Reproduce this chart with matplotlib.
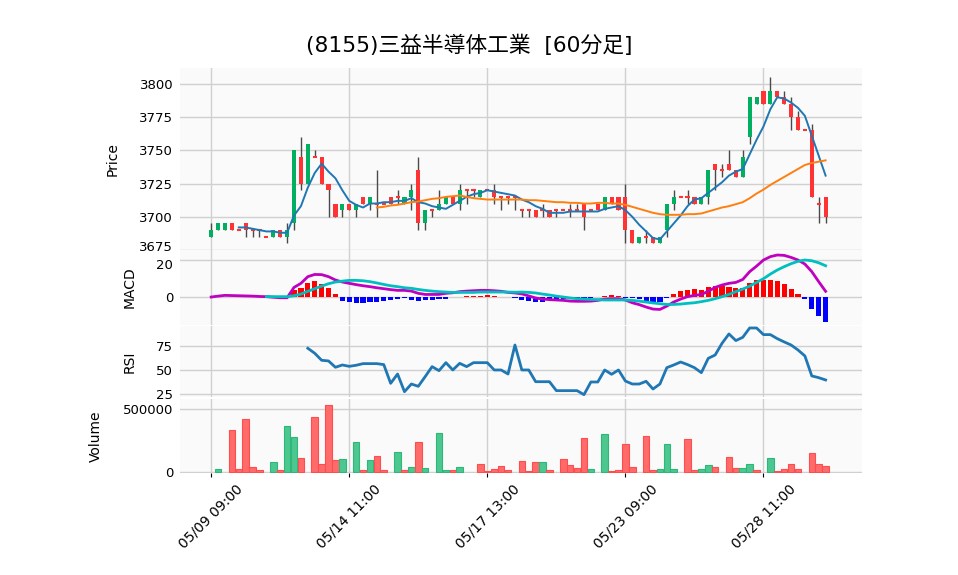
import numpy as np
import matplotlib.pyplot as plt
import matplotlib.transforms as mtransforms

plt.rcParams['font.family'] = ['DejaVu Sans', 'Noto Sans CJK JP']

title = '(8155)三益半導体工業  [60分足]'
tick_pos = [0, 20, 40, 60, 80]
tick_labels = ['05/09 09:00', '05/14 11:00', '05/17 13:00', '05/23 09:00', '05/28 11:00']

# hourly bars, 6 per day
opens = [3685, 3690, 3690, 3695, 3690, 3695, 3690, 3690, 3685, 3685,
         3690, 3685, 3695, 3745, 3725, 3745, 3745, 3725, 3710, 3705,
         3710, 3705, 3715, 3710, 3710, 3710, 3715, 3715, 3710, 3715,
         3735, 3695, 3705, 3705, 3710, 3715, 3710, 3720, 3720, 3715,
         3720, 3720, 3715, 3715, 3715, 3705, 3705, 3705, 3705, 3705,
         3705, 3705, 3705, 3705, 3710, 3705, 3710, 3705, 3715, 3715,
         3715, 3690, 3680, 3685, 3685, 3680, 3690, 3710, 3715, 3715,
         3715, 3710, 3715, 3740, 3735, 3740, 3735, 3730, 3760, 3785,
         3795, 3785, 3795, 3790, 3785, 3775, 3765, 3765, 3710, 3715]
highs = [3695, 3695, 3695, 3695, 3690, 3695, 3690, 3690, 3685, 3690,
         3690, 3695, 3750, 3760, 3755, 3750, 3745, 3725, 3710, 3710,
         3710, 3710, 3715, 3715, 3735, 3710, 3715, 3720, 3715, 3725,
         3745, 3705, 3705, 3720, 3715, 3715, 3725, 3720, 3720, 3720,
         3720, 3725, 3715, 3715, 3715, 3705, 3705, 3705, 3710, 3705,
         3705, 3705, 3710, 3710, 3710, 3705, 3710, 3715, 3715, 3715,
         3725, 3690, 3685, 3690, 3685, 3685, 3710, 3720, 3715, 3720,
         3715, 3715, 3735, 3740, 3740, 3750, 3735, 3750, 3790, 3790,
         3795, 3805, 3795, 3795, 3790, 3780, 3765, 3770, 3715, 3715]
lows = [3685, 3690, 3690, 3690, 3690, 3685, 3685, 3685, 3685, 3685,
        3685, 3680, 3690, 3720, 3725, 3745, 3725, 3700, 3700, 3700,
        3705, 3700, 3710, 3705, 3700, 3710, 3710, 3710, 3710, 3705,
        3690, 3690, 3700, 3705, 3710, 3710, 3705, 3710, 3715, 3715,
        3720, 3710, 3705, 3710, 3705, 3700, 3700, 3700, 3700, 3700,
        3700, 3705, 3700, 3705, 3690, 3705, 3705, 3705, 3710, 3705,
        3680, 3680, 3680, 3680, 3680, 3680, 3685, 3705, 3715, 3710,
        3710, 3710, 3710, 3720, 3730, 3735, 3730, 3730, 3755, 3785,
        3785, 3785, 3790, 3785, 3765, 3765, 3765, 3715, 3695, 3695]
closes = [3690, 3695, 3695, 3690, 3690, 3690, 3690, 3690, 3685, 3690,
          3685, 3690, 3750, 3725, 3755, 3745, 3725, 3720, 3700, 3710,
          3705, 3710, 3710, 3715, 3710, 3710, 3710, 3715, 3715, 3720,
          3695, 3705, 3705, 3710, 3715, 3710, 3720, 3720, 3720, 3720,
          3720, 3715, 3715, 3715, 3715, 3705, 3705, 3700, 3705, 3700,
          3705, 3705, 3705, 3705, 3700, 3705, 3705, 3715, 3710, 3705,
          3690, 3680, 3685, 3685, 3680, 3685, 3710, 3715, 3715, 3715,
          3710, 3715, 3735, 3735, 3735, 3735, 3730, 3745, 3790, 3790,
          3785, 3795, 3790, 3785, 3775, 3765, 3765, 3715, 3710, 3700]
volume = [0, 19000, 0, 334000, 19000, 422000, 37000, 11000, 0, 77500,
          11000, 366000, 278000, 110000, 0, 438500, 61500, 535000, 93600, 101600,
          0, 238000, 11000, 93600, 126000, 11000, 0, 158000, 11000, 37000,
          238000, 29000, 0, 310000, 11000, 11000, 37000, 0, 0, 61500,
          3000, 19000, 45000, 11000, 0, 83000, 5000, 75000, 75000, 11000,
          0, 99000, 51000, 29000, 270000, 19000, 0, 302000, 5000, 11000,
          222000, 37000, 0, 286000, 11000, 21000, 222000, 21000, 0, 262000,
          11000, 19000, 51000, 37000, 0, 118000, 29000, 29000, 61500, 11000,
          0, 110000, 5000, 19000, 61500, 19000, 0, 150000, 61500, 45000]

ma5 = [np.nan] * 4 + [
    3692, 3692, 3691, 3690, 3689, 3689, 3688, 3688, 3701, 3708,
    3722, 3733, 3740, 3734, 3729, 3720, 3712, 3709, 3707, 3710,
    3710, 3711, 3711, 3712, 3712, 3714, 3711, 3710, 3708, 3707,
    3706, 3709, 3712, 3715, 3717, 3718, 3720, 3719, 3718, 3717,
    3716, 3713, 3711, 3708, 3706, 3703, 3703, 3703, 3704, 3704,
    3704, 3704, 3704, 3706, 3707, 3708, 3705, 3700, 3694, 3689,
    3684, 3683, 3689, 3695, 3701, 3708, 3713, 3714, 3718, 3722,
    3726, 3731, 3734, 3736, 3747, 3758, 3768, 3781, 3790, 3789,
    3786, 3782, 3776, 3761, 3746, 3731]
ma25 = [np.nan] * 24 + [
    3707, 3707.5, 3708.5, 3709, 3710, 3711, 3711.5, 3712.5, 3713.5, 3714,
    3715, 3715.5, 3716, 3715, 3714, 3713.5, 3713, 3713, 3713, 3713,
    3713, 3713, 3712.5, 3712.5, 3712, 3711.5, 3711, 3711, 3710.5, 3710.5,
    3710, 3710, 3710.5, 3710.5, 3710, 3710, 3709, 3707.5, 3706, 3704.5,
    3703, 3702, 3701.5, 3701.5, 3701.5, 3702, 3702, 3702.5, 3704, 3705.5,
    3707, 3708, 3709.5, 3711, 3714, 3717.5, 3720.5, 3724, 3727, 3730,
    3733, 3736, 3739, 3740.5, 3741.5, 3742.5]

macd = [0.0, 0.5, 0.9, 0.8, 0.7, 0.6, 0.5, 0.3, 0.2, -0.1,
        -0.4, -0.4, 5.2, 7.4, 11.0, 12.2, 12.1, 11.0, 9.2, 8.1,
        7.4, 6.7, 6.1, 5.6, 5.0, 4.5, 4.0, 3.6, 3.6, 3.2,
        2.0, 1.4, 1.4, 1.4, 2.0, 2.3, 2.9, 3.2, 3.4, 3.6,
        3.6, 3.4, 3.1, 2.5, 2.2, 1.7, 0.6, -0.5, -1.1, -1.4,
        -1.6, -1.8, -2.2, -2.3, -2.3, -2.2, -1.8, -1.1, -0.9, -0.9,
        -1.6, -3.1, -4.1, -5.4, -6.5, -6.7, -4.9, -2.7, -1.1, 0.2,
        0.9, 1.4, 3.1, 5.2, 6.5, 7.4, 7.9, 9.5, 13.7, 16.7,
        20.0, 21.8, 22.7, 22.5, 21.4, 20.0, 17.8, 13.7, 8.3, 3.1]
signal = [np.nan] * 8 + [
    0.2, 0.2, 0.2, 0.2, 0.7, 1.6, 3.1, 4.5, 5.9, 7.2,
    8.1, 8.6, 9.0, 9.0, 8.8, 8.3, 7.6, 6.8, 6.1, 5.6,
    5.0, 4.7, 4.1, 3.6, 3.2, 2.9, 2.7, 2.5, 2.5, 2.5,
    2.5, 2.7, 2.7, 2.7, 2.7, 2.7, 2.6, 2.7, 2.5, 2.2,
    1.6, 1.1, 0.5, 0.0, -0.5, -0.9, -1.1, -1.3, -1.4, -1.6,
    -1.6, -1.6, -1.6, -1.8, -2.2, -2.7, -3.2, -3.6, -4.0, -4.0,
    -3.8, -3.4, -3.1, -2.5, -1.8, -0.9, 0.2, 1.4, 2.9, 4.3,
    5.9, 7.9, 9.9, 12.4, 14.6, 16.4, 18.0, 19.3, 20.0, 19.6,
    18.5, 16.9]
hist = [np.nan] * 8 + [
    0.0, 0.0, 0.0, 0.0, 3.8, 5.0, 7.4, 8.6, 7.0, 4.9,
    1.6, -2.2, -2.9, -3.4, -3.1, -2.7, -2.7, -2.0, -1.6, -1.1,
    -0.7, -1.6, -2.0, -1.6, -1.4, -0.9, -0.9, -0.2, 0.0, 0.7,
    0.7, 0.7, 0.9, 0.5, 0.2, 0.0, -0.4, -1.5, -2.2, -2.7,
    -2.5, -1.6, -1.3, -1.3, -0.9, -0.9, -0.7, -0.5, -0.2, 0.5,
    1.1, 0.5, -0.4, -0.7, -1.3, -2.0, -2.5, -2.9, -0.4, 1.8,
    3.2, 4.0, 4.5, 4.0, 5.6, 5.9, 5.9, 5.4, 4.7, 5.0,
    7.6, 9.0, 9.4, 9.2, 8.6, 7.2, 4.5, 1.8, -0.9, -6.3,
    -10.1, -13.3]
rsi = [np.nan] * 14 + [
    72.6, 67.4, 60.1, 59.4, 52.8, 55.2, 53.8, 54.9, 56.6, 56.6,
    56.6, 55.6, 36.1, 45.8, 27.4, 35.4, 33.0, 43.1, 53.5, 49.3,
    57.6, 50.0, 56.9, 53.5, 57.6, 57.6, 57.6, 50.0, 50.0, 45.8,
    76.0, 50.0, 50.0, 37.8, 37.8, 37.8, 28.5, 28.5, 28.5, 28.5,
    24.3, 37.5, 37.5, 50.0, 45.5, 50.0, 38.5, 35.4, 35.4, 38.2,
    30.2, 35.4, 52.4, 55.2, 58.3, 55.6, 52.4, 47.2, 62.1, 65.6,
    77.8, 87.5, 80.6, 84.0, 93.7, 93.7, 86.8, 86.8, 82.6, 79.2,
    76.0, 70.8, 64.6, 43.8, 42.0, 39.6]

o = np.array(opens, float)
h = np.array(highs, float)
l = np.array(lows, float)
c = np.array(closes, float)
v = np.array(volume, float)
x = np.arange(len(c))

up_c, dn_c = '#00b060', '#ff3333'
up = c > o
doji = c == o
body_col = np.where(up, up_c, dn_c)
prev = np.concatenate([[c[0]], c[:-1]])
vol_up = c > prev

fig = plt.figure(figsize=(9.58, 5.75), dpi=100)
L, W = 0.188, 0.712
ax1 = fig.add_axes([L, 0.5652, W, 0.3165])
ax2 = fig.add_axes([L, 0.4348, W, 0.1304], sharex=ax1)
ax3 = fig.add_axes([L, 0.3096, W, 0.1235], sharex=ax1)
ax4 = fig.add_axes([L, 0.1774, W, 0.1287], sharex=ax1)

for ax in (ax1, ax2, ax3, ax4):
    ax.set_facecolor('#fafafa')
    ax.grid(True, color='#d0d0d0', lw=1)
    ax.set_axisbelow(True)
    for s in ax.spines.values():
        s.set_visible(False)
    ax.tick_params(axis='y', length=0, labelsize=9.5, pad=5)
    ax.tick_params(axis='x', length=0, labelbottom=False)

# price
ax1.vlines(x, l, h, color='#4a4a4a', lw=1, zorder=2)
nd = ~doji
ax1.bar(x[nd], np.abs(c - o)[nd], bottom=np.minimum(o, c)[nd], width=0.6,
        color=body_col[nd], zorder=3)
ax1.hlines(c[doji], x[doji] - 0.3, x[doji] + 0.3, color=dn_c, lw=1.5, zorder=3)
ax1.plot(x, ma5, color='#1f77b4', lw=1.4, zorder=4)
ax1.plot(x, ma25, color='#ff7f0e', lw=1.4, zorder=4)
ax1.set_ylim(3675, 3812)
ax1.set_yticks([3675, 3700, 3725, 3750, 3775, 3800])
ax1.set_ylabel('Price', fontsize=10, labelpad=14)

# macd
hv = np.array(hist, float)
ax2.bar(x, hv, width=0.75, color=np.where(hv >= 0, '#ff0000', '#0000ff'), zorder=2)
ax2.plot(x, macd, color='#bf00bf', lw=2, zorder=3)
ax2.plot(x, signal, color='#00bfbf', lw=2, zorder=3)
ax2.set_ylim(-15.1, 25.4)
ax2.set_yticks([0, 20])
ax2.set_ylabel('MACD', fontsize=10, labelpad=14)

# rsi
ax3.plot(x, rsi, color='#1f77b4', lw=2)
ax3.set_ylim(21.9, 95.8)
ax3.set_yticks([25, 50, 75])
ax3.set_ylabel('RSI', fontsize=10, labelpad=14)

# volume
has_v = v > 0
ax4.bar(x[has_v], v[has_v], width=0.95,
        color=np.where(vol_up, '#4cc790', '#ff6b6b')[has_v],
        edgecolor=np.where(vol_up, '#2db87a', '#ff4d4d')[has_v], lw=0.8)
ax4.set_ylim(-10000, 582000)
ax4.set_yticks([0, 500000])
ax4.set_yticklabels(['0', '500000'])
ax4.set_ylabel('Volume', fontsize=10, labelpad=14)

# nudge the two touching labels at the price/MACD seam apart a little
nudge_up = mtransforms.ScaledTranslation(0, 3 / 72, fig.dpi_scale_trans)
nudge_dn = mtransforms.ScaledTranslation(0, -3 / 72, fig.dpi_scale_trans)
lab = ax1.get_yticklabels()[0]
lab.set_transform(lab.get_transform() + nudge_up)
lab = ax2.get_yticklabels()[-1]
lab.set_transform(lab.get_transform() + nudge_dn)

ax1.set_xticks(tick_pos)
ax1.set_xlim(-4.5, 94.3)
ax4.tick_params(axis='x', length=3, labelbottom=True, labelsize=10)
ax4.set_xticklabels(tick_labels, rotation=45)

fig.text(0.49, 0.922, title, ha='center', va='center', fontsize=15.7)

fig.savefig('out.png', dpi=100)
